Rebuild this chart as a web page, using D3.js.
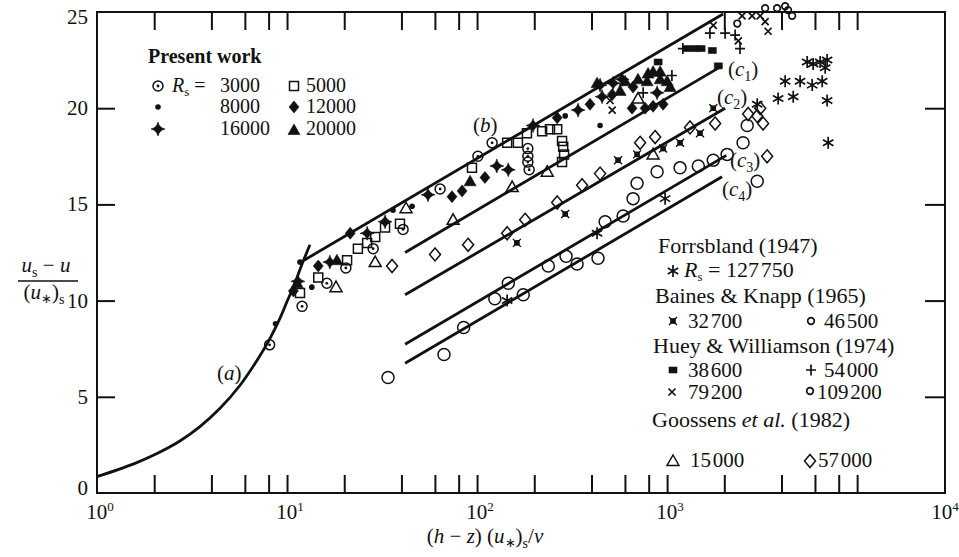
<!DOCTYPE html>
<html>
<head>
<meta charset="utf-8">
<script src="https://cdn.jsdelivr.net/npm/d3@7"></script>
<style>
body { margin: 0; background: #fff; }
svg text { font-family: "Liberation Serif", "Times New Roman", serif; font-size: 21px; fill: #111; }
svg .lg1 text { font-size: 20px; }
svg .lg2 text { font-size: 22px; }
svg .lg2 text.num { font-size: 21px; }
</style>
</head>
<body>
<script>
// ---- data: [ (h-z)(u*)s/nu , (us-u)/(u*)s ] ----
var curveA = [[1,0.85],[1.55,1.5],[2.07,2.05],[2.73,2.7],[3.48,3.45],[4.44,4.4],[5.66,5.6],[6.96,6.9],[8.1,8.0],[9.2,9.1],[10,9.95],[10.9,10.8],[12,11.9],[13.2,12.9]];
var lineB  = [[12.3,12.1],[1970,24.9]];
var lineC1 = [[41.8,12.5],[1946,22.2]];
var lineC2 = [[41.8,10.3],[2020,20.0]];
var lineC3 = [[41.8,7.73],[2050,17.55]];
var lineC4 = [[41.8,6.74],[1946,16.44]];

var pw3000  = [[8.1,7.7],[12.0,9.7],[16.2,10.9],[20.4,11.7],[28.4,12.7],[40.8,13.7],[63.9,15.8],[120,18.2],[185,17.9],[185,17.5],[185,17.2],[188,16.8],[101,17.5]];
var pw5000  = [[11.7,10.4],[14.6,11.2],[20.7,12.1],[23.6,12.7],[26.4,13.0],[29.1,13.3],[32.8,13.8],[39.3,14.0],[94,16.9],[144,18.2],[164,18.2],[183,18.7],[220,18.8],[242,18.9],[264,18.9],[280,18.3],[284,18.0],[287,17.6],[280,17.2]];
var pw8000  = [[8.7,8.8],[11.7,12.0],[13.5,10.7],[36.1,14.7],[45.5,14.9],[291,19.6],[444,19.1]];
var pw12000 = [[10.8,10.5],[14.6,11.8],[21.5,13.5],[73.8,15.4],[83.4,15.7],[110,16.4],[264,19.5],[393,20.2],[662,21.1],[654,20.0],[766,20.0],[844,20.1],[953,20.2],[514,20.7]];
var pw16000 = [[11.4,11.0],[16.8,12.0],[26.4,13.5],[32.8,14.1],[55.2,15.5],[127,17.0],[146,16.8],[340,19.9],[455,20.6],[520,21.3],[444,21.2],[580,21.5],[886,20.8],[197,19.1]];
var pw20000 = [[11.3,10.9],[18.3,12.1],[91.9,16.2],[428,21.3],[601,21.4],[703,21.5],[785,21.4],[794,21.8],[844,21.9],[919,21.9],[1000,21.4],[1037,21.1],[919,21.5],[566,20.9]];
var forrsbland = [[144,10.0],[428,13.5],[976,15.3],[2980,20.2],[3840,20.5],[4610,20.6],[4180,21.4],[5010,21.4],[5800,21.2],[6550,21.4],[5460,22.4],[5870,22.3],[6390,22.4],[6950,22.5],[6790,22.1],[6950,20.4],[7040,18.2]];
var bk32700 = [[162,13.0],[291,14.5],[552,17.3],[695,17.6],[953,17.9],[1170,18.2],[1490,18.7],[1750,20.0]];
var bk46500 = [[34,6.0],[67,7.2],[85,8.6],[124,10.1],[146,10.9],[175,10.3],[237,11.8],[294,12.3],[336,11.9],[433,12.2],[472,14.1],[587,14.4],[662,15.3],[695,16.1],[886,16.7],[1170,16.9],[1460,17.0],[1750,17.3],[2070,17.6],[2640,19.1],[2980,16.2],[2510,18.2]];
var hw38600 = [[1270,23.1],[1400,23.1],[1510,23.1],[1730,23.0],[1860,22.2],[897,22.4]];
var hw54000 = [[1210,23.1],[1680,23.9],[2020,23.9],[2280,23.8],[2420,23.1],[1060,21.7],[748,20.8]];
var hw79200 = [[1750,24.3],[2370,23.5],[2480,24.8],[2800,24.8],[3090,24.8],[3280,24.5],[3400,24.0],[514,19.9],[501,20.4]];
var hw109200 = [[2340,24.4],[3280,25.2],[3790,25.2],[4180,25.3],[4330,25.1],[4550,24.8]];
var go15000 = [[18.1,10.7],[29.1,12.0],[42.3,14.8],[74.8,14.2],[153,15.9],[234,16.7],[703,20.5],[844,17.6]];
var go57000 = [[35.7,11.8],[60.1,12.4],[89.7,12.9],[144,13.5],[179,14.2],[264,15.1],[357,16.0],[444,16.6],[721,18.2],[865,18.5],[1320,19.0],[1790,19.2],[2670,19.7],[2980,19.6],[3090,20.0],[3200,19.2],[3360,17.5]];

var xTicks  = [2,4,6,8,10,20,40,60,80,100,200,400,600,800,1000,2000,4000,6000,8000,10000];
var xLabels = ["0","1","2","3"];
var yTicks  = [5,10,15,20];
var yLabels = [0,5,10,15,20,25];

// ---- drawing ----
var W = 959, H = 557;
var svg = d3.select("body").append("svg").attr("width", W).attr("height", H);
var x = d3.scaleLog().domain([1, 29000]).range([97, 945]);
var y = d3.scaleLinear().domain([0, 25]).range([493, 12]);

// frame
svg.append("rect").attr("x", 97).attr("y", 12).attr("width", 848).attr("height", 481)
	.attr("fill", "none").attr("stroke", "#111").attr("stroke-width", 2);

var axB = svg.append("g").attr("transform", "translate(0,493)")
	.call(d3.axisBottom(x).tickValues(xTicks).tickSizeInner(-18).tickSizeOuter(0).tickFormat(""));
var axT = svg.append("g").attr("transform", "translate(0,12)")
	.call(d3.axisTop(x).tickValues(xTicks).tickSizeInner(-18).tickSizeOuter(0).tickFormat(""));
var axL = svg.append("g").attr("transform", "translate(97,0)")
	.call(d3.axisLeft(y).tickValues(yTicks).tickSizeInner(-18).tickSizeOuter(0).tickFormat(""));
var axR = svg.append("g").attr("transform", "translate(945,0)")
	.call(d3.axisRight(y).tickValues(yTicks).tickSizeInner(-20).tickSizeOuter(0).tickFormat(""));
[axB, axT, axL, axR].forEach(function(a){
	a.select(".domain").remove();
	a.selectAll("line").attr("stroke", "#111").attr("stroke-width", 2);
});

// x tick labels
xLabels.forEach(function(p, i){
	var t = svg.append("text").attr("x", x(Math.pow(10, i)) + 3).attr("y", 519).attr("text-anchor", "middle");
	t.append("tspan").text("10");
	t.append("tspan").attr("dy", -8).attr("font-size", 13).text(p);
});
var t4 = svg.append("text").attr("x", x.range()[1]).attr("y", 519).attr("text-anchor", "middle");
t4.append("tspan").text("10");
t4.append("tspan").attr("dy", -8).attr("font-size", 13).text("4");

// y tick labels
yLabels.forEach(function(v){
	var off = v == 0 ? 2 : (v == 25 ? 12 : 7);
	svg.append("text").attr("x", 88).attr("y", y(v) + off).attr("text-anchor", "end").text(v);
});

// axis titles
var xt = svg.append("text").attr("x", 485).attr("y", 543).attr("text-anchor", "middle");
xt.append("tspan").text("(");
xt.append("tspan").attr("font-style", "italic").text("h");
xt.append("tspan").text(" − ");
xt.append("tspan").attr("font-style", "italic").text("z");
xt.append("tspan").text(") (");
xt.append("tspan").attr("font-style", "italic").text("u");
xt.append("tspan").attr("font-size", 13).attr("dy", 4).text("∗");
xt.append("tspan").attr("dy", -4).text(")");
xt.append("tspan").attr("font-size", 14).attr("dy", 5).text("s");
xt.append("tspan").attr("dy", -5).text("/");
xt.append("tspan").attr("font-style", "italic").text("ν");

var yn = svg.append("text").attr("x", 46).attr("y", 272).attr("text-anchor", "middle");
yn.append("tspan").attr("font-style", "italic").text("u");
yn.append("tspan").attr("font-size", 14).attr("dy", 5).text("s");
yn.append("tspan").attr("dy", -5).text(" − ");
yn.append("tspan").attr("font-style", "italic").text("u");
svg.append("line").attr("x1", 18).attr("x2", 78).attr("y1", 281).attr("y2", 281).attr("stroke", "#111").attr("stroke-width", 1.5);
var yd = svg.append("text").attr("x", 44).attr("y", 299).attr("text-anchor", "middle");
yd.append("tspan").text("(");
yd.append("tspan").attr("font-style", "italic").text("u");
yd.append("tspan").attr("font-size", 13).attr("dy", 4).text("∗");
yd.append("tspan").attr("dy", -4).text(")");
yd.append("tspan").attr("font-size", 14).attr("dy", 5).text("s");

// lines
var line = d3.line().x(function(d){ return x(d[0]); }).y(function(d){ return y(d[1]); });
svg.append("path").datum(curveA).attr("d", line.curve(d3.curveCatmullRom))
	.attr("fill", "none").attr("stroke", "#111").attr("stroke-width", 2.8);
line.curve(d3.curveLinear);
[lineB, lineC1, lineC2, lineC3, lineC4].forEach(function(l){
	svg.append("path").datum(l).attr("d", line).attr("fill", "none").attr("stroke", "#111").attr("stroke-width", 2.8);
});

// markers
var paths = {
	sq: "M-4.5,-4.5h9v9h-9z",
	dia: "M0,-6L5,0L0,6L-5,0Z",
	odia: "M0,-6.5L5.5,0L0,6.5L-5.5,0Z",
	tri: "M0,-6L6,4.5L-6,4.5Z",
	otri: "M0,-6L6,4.5L-6,4.5Z",
	star4: "M0,-7Q1.3,-1.3 7,0Q1.3,1.3 0,7Q-1.3,1.3 -7,0Q-1.3,-1.3 0,-7Z",
	plus: "M-5,0H5M0,-5.5V5.5",
	cross: "M-3.5,-3.5L3.5,3.5M-3.5,3.5L3.5,-3.5",
	ast: "M0,-6V6M-5.2,-3L5.2,3M-5.2,3L5.2,-3",
	bk: "M-4,-4L4,4M-4,4L4,-4",
	fsq: "M-4,-3h8v6h-8z"
};
function marker(g, type, cx, cy){
	var m = g.append("g").attr("transform", "translate(" + cx + "," + cy + ")");
	if (type == "cdot") {
		m.append("circle").attr("r", 5).attr("fill", "none").attr("stroke", "#111").attr("stroke-width", 1.5);
		m.append("circle").attr("r", 1.4).attr("fill", "#111");
	} else if (type == "dot") {
		m.append("circle").attr("r", 2.8).attr("fill", "#111");
	} else if (type == "ocirc") {
		m.append("circle").attr("r", 6).attr("fill", "none").attr("stroke", "#111").attr("stroke-width", 1.5);
	} else if (type == "scirc") {
		m.append("circle").attr("r", 3.3).attr("fill", "none").attr("stroke", "#111").attr("stroke-width", 1.7);
	} else if (type == "bk") {
		m.append("rect").attr("x", -2.8).attr("y", -2.8).attr("width", 5.6).attr("height", 5.6).attr("fill", "#111");
		m.append("path").attr("d", paths.bk).attr("stroke", "#111").attr("stroke-width", 1.4);
	} else {
		var filled = ["dia", "tri", "star4", "fsq"].indexOf(type) >= 0;
		var stroked = ["plus", "cross", "ast"].indexOf(type) >= 0;
		m.append("path").attr("d", paths[type])
			.attr("fill", filled ? "#111" : "none")
			.attr("stroke", "#111")
			.attr("stroke-width", stroked ? 1.7 : (filled ? 0.6 : 1.5));
	}
	return m;
}

var series = [
	[go15000, "otri"], [go57000, "odia"], [bk46500, "ocirc"], [pw3000, "cdot"], [pw5000, "sq"],
	[pw8000, "dot"], [pw12000, "dia"], [pw16000, "star4"], [pw20000, "tri"],
	[forrsbland, "ast"], [bk32700, "bk"], [hw38600, "fsq"], [hw54000, "plus"],
	[hw79200, "cross"], [hw109200, "scirc"]
];
var gm = svg.append("g");
series.forEach(function(s){
	s[0].forEach(function(d){ marker(gm, s[1], x(d[0]), y(d[1])); });
});

// curve labels
function clabel(px, py, letter, sub){
	var t = svg.append("text").attr("x", px).attr("y", py).attr("font-size", 22);
	t.append("tspan").text("(");
	t.append("tspan").attr("font-style", "italic").text(letter);
	if (sub) t.append("tspan").attr("font-size", 14).attr("dy", 5).text(sub);
	t.append("tspan").attr("dy", sub ? -5 : 0).text(")");
}
clabel(217, 380, "a");
clabel(473, 132, "b");
clabel(728, 76, "c", "1");
clabel(717, 104, "c", "2");
clabel(730, 167, "c", "3");
clabel(722, 196, "c", "4");

// legend: present work
var lg = svg.append("g").attr("class", "lg1");
lg.append("text").attr("x", 148).attr("y", 63).attr("font-weight", "bold").text("Present work");
marker(lg, "cdot", 158, 86);
var rs = lg.append("text").attr("x", 172).attr("y", 92);
rs.append("tspan").attr("font-style", "italic").text("R");
rs.append("tspan").attr("font-size", 13).attr("dy", 4).text("s");
rs.append("tspan").attr("dy", -4).text(" =");
lg.append("text").attr("x", 220).attr("y", 92).text("3000");
marker(lg, "sq", 294, 86);
lg.append("text").attr("x", 306).attr("y", 92).text("5000");
marker(lg, "dot", 158, 107);
lg.append("text").attr("x", 220).attr("y", 113).text("8000");
marker(lg, "dia", 294, 107);
lg.append("text").attr("x", 306).attr("y", 113).text("12000");
marker(lg, "star4", 158, 129);
lg.append("text").attr("x", 220).attr("y", 135).text("16000");
marker(lg, "tri", 294, 130);
lg.append("text").attr("x", 306).attr("y", 135).text("20000");

// legend: other works
var rg = svg.append("g").attr("class", "lg2");
function num(px, py, s){ rg.append("text").attr("class", "num").attr("x", px).attr("y", py).text(s); }
rg.append("text").attr("x", 658).attr("y", 253).text("Forrsbland (1947)");
marker(rg, "ast", 673, 271);
var rs2 = rg.append("text").attr("x", 684).attr("y", 277);
rs2.append("tspan").attr("font-style", "italic").text("R");
rs2.append("tspan").attr("font-size", 13).attr("dy", 4).text("s");
rs2.append("tspan").attr("dy", -4).text(" = 127\u200a750");
rg.append("text").attr("x", 655).attr("y", 303).text("Baines & Knapp (1965)");
marker(rg, "bk", 673, 321);
num(688, 328, "32\u200a700");
marker(rg, "scirc", 811, 321);
num(824, 328, "46\u200a500");
rg.append("text").attr("x", 653).attr("y", 353).text("Huey & Williamson (1974)");
marker(rg, "fsq", 673, 370);
num(688, 377, "38\u200a600");
marker(rg, "plus", 811, 370);
num(824, 377, "54\u200a000");
marker(rg, "cross", 672, 392);
num(688, 399, "79\u200a200");
marker(rg, "scirc", 810, 391);
num(817, 399, "109\u200a200");
var gs = rg.append("text").attr("x", 652).attr("y", 427);
gs.append("tspan").text("Goossens ");
gs.append("tspan").attr("font-style", "italic").text("et al.");
gs.append("tspan").text(" (1982)");
marker(rg, "otri", 673, 461);
num(690, 467, "15\u200a000");
marker(rg, "odia", 810, 461);
num(818, 467, "57\u200a000");
</script>
</body>
</html>
